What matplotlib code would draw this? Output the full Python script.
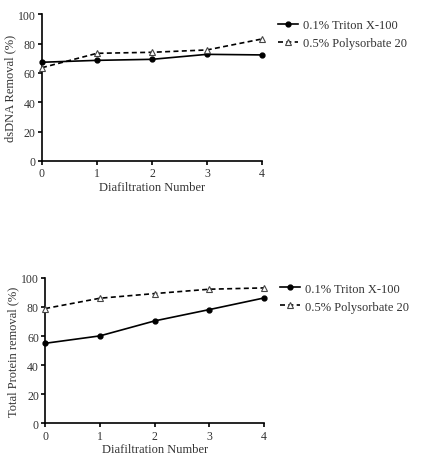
import numpy as np
import matplotlib.pyplot as plt

plt.rcParams['font.family'] = ['Liberation Serif', 'DejaVu Serif']

# data
diafiltration = [0, 1, 2, 3, 4]
dsdna_triton = [67.3, 68.6, 69.3, 72.7, 72.3]
dsdna_polysorbate = [63.6, 73.4, 74.1, 75.7, 83.2]
protein_triton = [55.0, 60.1, 70.4, 78.2, 86.2]
protein_polysorbate = [78.9, 86.0, 89.2, 92.2, 93.1]
yticks = [0, 20, 40, 60, 80, 100]
label_triton = '0.1% Triton X-100'
label_poly = '0.5% Polysorbate 20'

fig = plt.figure(figsize=(4.22, 4.64), dpi=100)
ax1 = fig.add_axes([0.0995, 0.651, 0.5215, 0.316])
ax2 = fig.add_axes([0.107, 0.0856, 0.519, 0.3134])

txt = '#333333'


def draw(ax, tri, poly, ylabel):
    ax.plot(diafiltration, tri, color='black', lw=1.2, marker='o', ms=3.5,
            label=label_triton, clip_on=False, zorder=3)
    ax.plot(diafiltration, poly, color='black', lw=1.2, ls=(0, (3, 2)), marker='^',
            ms=4.5, mfc='white', mec='#444444', mew=0.8, label=label_poly,
            clip_on=False, zorder=3)
    ax.set_xlim(0, 4)
    ax.set_ylim(0, 100)
    ax.set_xticks(diafiltration)
    ax.set_yticks(yticks)
    for s in ['top', 'right']:
        ax.spines[s].set_visible(False)
    for s in ['left', 'bottom']:
        ax.spines[s].set_linewidth(1.2)
    ax.tick_params(direction='out', length=3, width=1.2, labelsize=8.5,
                   labelcolor=txt, pad=1.5)
    ax.set_xlabel('Diafiltration Number', fontsize=9, color=txt, labelpad=1)
    ax.set_ylabel(ylabel, fontsize=9, color=txt, labelpad=1)
    ax.legend(loc='upper left', bbox_to_anchor=(1.02, 1.045), frameon=False,
              fontsize=9, handlelength=1.6, handletextpad=0.45, labelspacing=0.5,
              labelcolor=txt)


draw(ax1, dsdna_triton, dsdna_polysorbate, 'dsDNA Removal (%)')
draw(ax2, protein_triton, protein_polysorbate, 'Total Protein removal (%)')

fig.savefig('out.png', dpi=100)
